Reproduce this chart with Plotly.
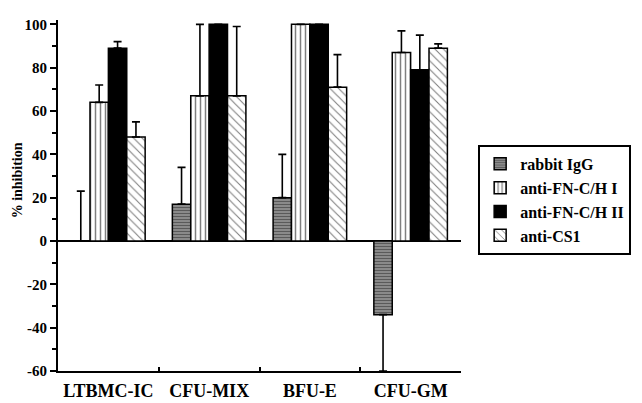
import plotly.graph_objects as go

categories = ["LTBMC-IC", "CFU-MIX", "BFU-E", "CFU-GM"]
series_names = ["rabbit IgG", "anti-FN-C/H I", "anti-FN-C/H II", "anti-CS1"]

rabbit_igg = [0, 17, 20, -34]
rabbit_igg_err_plus = [23, 17, 20, 0]
rabbit_igg_err_minus = [0, 0, 0, 26]

fn_ch_1 = [64, 67, 100, 87]
fn_ch_1_err = [8, 33, 0, 10]

fn_ch_2 = [89, 100, 100, 79]
fn_ch_2_err = [3, 0, 0, 16]

cs1 = [48, 67, 71, 89]
cs1_err = [7, 32, 15, 2]

y_ticks = [-60, -40, -20, 0, 20, 40, 60, 80, 100]
y_tick_labels = ["-60", "-40", "-20", "0", "20", "40", "60", "80", "100"]
y_title = "% inhibition"

serif = "Liberation Serif"

def err(plus, minus=None):
    d = dict(type="data", array=plus, symmetric=False,
             arrayminus=minus if minus is not None else [0] * len(plus),
             color="black", thickness=1.6, width=4)
    return d

fig = go.Figure()
fig.add_trace(go.Bar(
    name=series_names[0], x=categories, y=rabbit_igg, legendgroup="a",
    error_y=err(rabbit_igg_err_plus, rabbit_igg_err_minus),
    marker=dict(color="#7a7a7a", line=dict(color="black", width=1.5),
                pattern=dict(shape="-", fgcolor="#2a2a2a", bgcolor="#8a8a8a", size=3, solidity=0.35)),
))
fig.add_trace(go.Bar(
    name=series_names[1], x=categories, y=fn_ch_1, legendgroup="b",
    error_y=err(fn_ch_1_err),
    marker=dict(color="white", line=dict(color="black", width=1.5),
                pattern=dict(shape="|", fgcolor="black", bgcolor="white", size=5, solidity=0.3)),
))
fig.add_trace(go.Bar(
    name=series_names[2], x=categories, y=fn_ch_2, legendgroup="c",
    error_y=err(fn_ch_2_err),
    marker=dict(color="black", line=dict(color="black", width=1.5)),
))
fig.add_trace(go.Bar(
    name=series_names[3], x=categories, y=cs1, legendgroup="d",
    error_y=err(cs1_err),
    marker=dict(color="white", line=dict(color="black", width=1.5),
                pattern=dict(shape="\\", fgcolor="black", bgcolor="white", size=6, solidity=0.18)),
))

fig.update_layout(
    width=642, height=403,
    margin=dict(l=58, r=180, t=20, b=32),
    paper_bgcolor="white", plot_bgcolor="white",
    barmode="group", bargap=0.27, bargroupgap=0,
    font=dict(family=serif, color="black"),
    showlegend=True,
    legend=dict(x=1.04, y=0.644, xanchor="left", yanchor="top",
                bordercolor="black", borderwidth=2, bgcolor="white",
                font=dict(family=serif, size=16, weight="bold"),
                tracegroupgap=8, traceorder="normal"),
    xaxis=dict(type="category", showline=True, linecolor="black", linewidth=2,
               ticks="inside", ticklen=4, tickwidth=2, tickcolor="black", tickson="boundaries",
               tickfont=dict(family=serif, size=18, weight="bold"), ticklabelstandoff=2,
               showgrid=False, zeroline=False, automargin=False),
    yaxis=dict(range=[-60, 102], tickvals=y_ticks, ticktext=y_tick_labels,
               showline=True, linecolor="black", linewidth=2,
               ticks="outside", ticklen=6, tickwidth=2, tickcolor="black",
               minor=dict(dtick=10, ticks="outside", ticklen=4, tickwidth=1.5, tickcolor="black"),
               tickfont=dict(family=serif, size=15, weight="bold"), automargin=False,
               showgrid=False, zeroline=True, zerolinecolor="black", zerolinewidth=2),
    annotations=[dict(text=y_title, xref="paper", yref="paper", x=-0.101, y=0.544,
                      xanchor="center", yanchor="middle", textangle=-90, showarrow=False,
                      font=dict(family=serif, size=14, weight="bold"))],
)

fig.write_html("out.html", post_script="document.body.style.margin='0';",
               config={"displayModeBar": False})
